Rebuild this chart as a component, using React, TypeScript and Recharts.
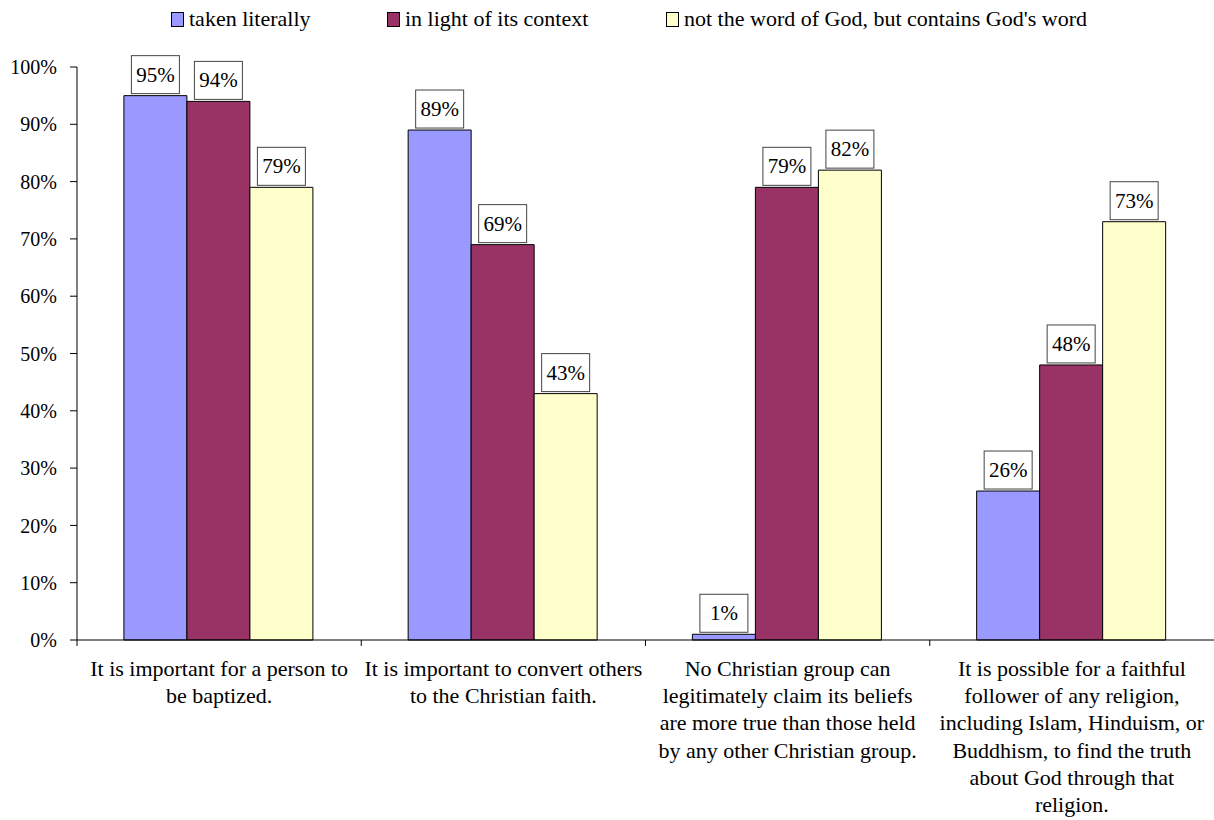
import { Bar, BarChart, LabelList, XAxis, YAxis } from "recharts";

const categories: string[][] = [
  ["It is important for a person to", "be baptized."],
  ["It is important to convert others", "to the Christian faith."],
  [
    "No Christian group can",
    "legitimately claim its beliefs",
    "are more true than those held",
    "by any other Christian group.",
  ],
  [
    "It is possible for a faithful",
    "follower of any religion,",
    "including Islam, Hinduism, or",
    "Buddhism, to find the truth",
    "about God through that",
    "religion.",
  ],
];

const literally = [95, 89, 1, 26];
const context = [94, 69, 79, 48];
const notWord = [79, 43, 82, 73];

const seriesNames = ["taken literally", "in light of its context", "not the word of God, but contains God's word"];
const seriesKeys = ["literally", "context", "notWord"];
const seriesColors = ["#9999FF", "#993366", "#FFFFCC"];
const yTicks = [0, 10, 20, 30, 40, 50, 60, 70, 80, 90, 100];

const W = 1214;
const H = 820;
const AXIS_W = 77;
const FONT = "'Liberation Serif', 'Times New Roman', serif";
const BAND = (W - AXIS_W) / categories.length;

const data = categories.map((lines, i) => ({
  name: String(i),
  literally: literally[i],
  context: context[i],
  notWord: notWord[i],
}));

function CategoryTick(props: any) {
  const { x, y, payload } = props;
  const lines = categories[Number(payload.value)] || [];
  const left = x - BAND / 2;
  return (
    <g>
      <line x1={left} y1={y} x2={left} y2={y + 6} stroke="#000" />
      {lines.map((ln, j) => (
        <text
          key={j}
          x={x}
          y={y + 36 + j * 27.2}
          textAnchor="middle"
          fontSize={22}
          fontFamily={FONT}
          fill="#000"
        >
          {ln}
        </text>
      ))}
    </g>
  );
}

function ValueBox(props: any) {
  const { x, y, width, value } = props;
  const cx = x + width / 2;
  const bw = 48;
  const bh = 38;
  return (
    <g>
      <rect x={cx - bw / 2} y={y - 2 - bh} width={bw} height={bh} fill="#fff" stroke="#444" />
      <text x={cx} y={y - 2 - bh / 2 + 7} textAnchor="middle" fontSize={21} fontFamily={FONT} fill="#000">
        {value}%
      </text>
    </g>
  );
}

const legendLeft = [171, 387, 666];

export default function App() {
  return (
    <div style={{ position: "absolute", left: 0, top: 0, width: W, height: H, background: "#fff" }}>
      {seriesNames.map((n, i) => (
        <div
          key={n}
          style={{
            position: "absolute",
            left: legendLeft[i],
            top: 5,
            display: "flex",
            alignItems: "center",
            fontFamily: FONT,
            fontSize: 22,
            lineHeight: "28px",
            whiteSpace: "nowrap",
          }}
        >
          <span
            style={{
              display: "inline-block",
              width: 11,
              height: 13,
              background: seriesColors[i],
              border: "1px solid #000",
              marginRight: 5,
            }}
          />
          {n}
        </div>
      ))}
      <BarChart
        width={W}
        height={H}
        data={data}
        margin={{ top: 67, right: 0, bottom: 0, left: 0 }}
        barCategoryGap="16.5%"
        barGap={0}
      >
        <YAxis
          width={AXIS_W}
          domain={[0, 100]}
          ticks={yTicks}
          interval={0}
          tickFormatter={(v) => `${v}%`}
          tickSize={7}
          tickMargin={13}
          axisLine={{ stroke: "#000" }}
          tickLine={{ stroke: "#000" }}
          tick={{ fontSize: 20, fontFamily: FONT, fill: "#000" }}
        />
        <XAxis
          dataKey="name"
          height={180}
          interval={0}
          tickSize={0}
          tickMargin={0}
          axisLine={{ stroke: "#000" }}
          tickLine={false}
          tick={<CategoryTick />}
        />
        {seriesKeys.map((k, i) => (
          <Bar key={k} dataKey={k} fill={seriesColors[i]} stroke="#000" strokeWidth={1} isAnimationActive={false}>
            <LabelList dataKey={k} content={<ValueBox />} />
          </Bar>
        ))}
      </BarChart>
    </div>
  );
}
